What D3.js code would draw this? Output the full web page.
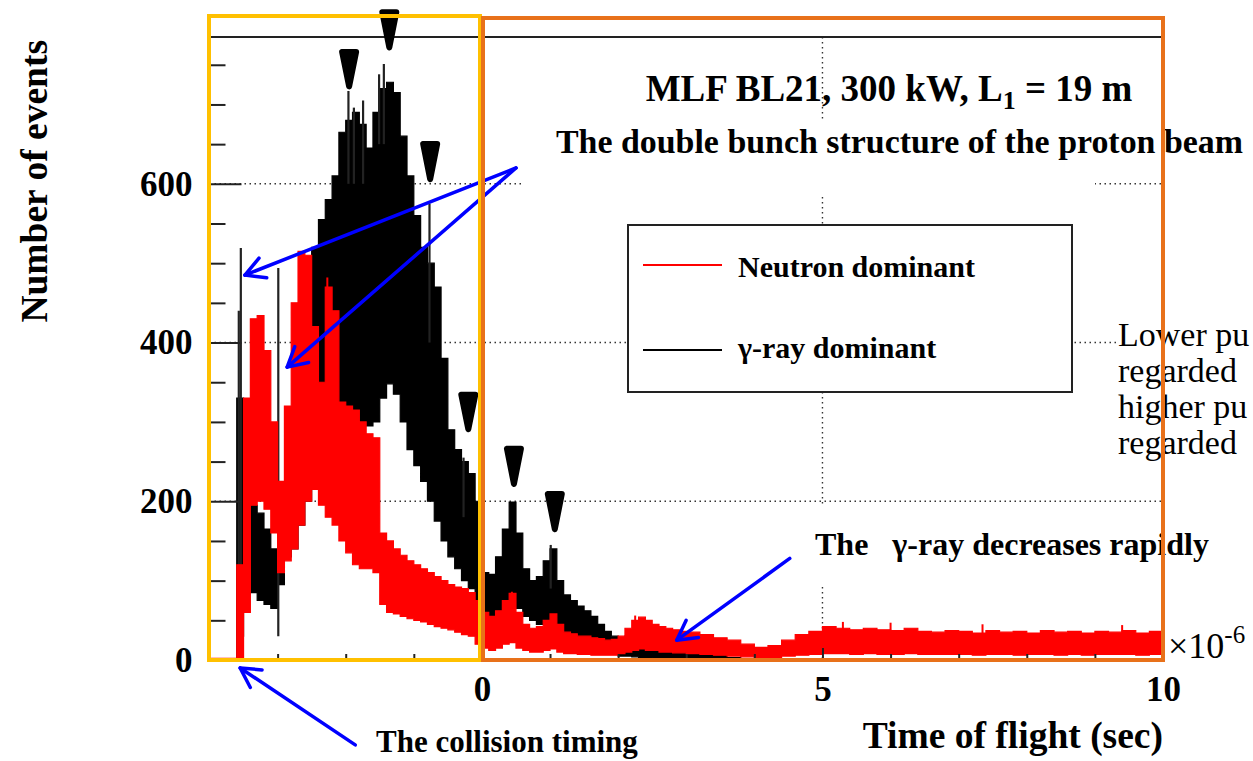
<!DOCTYPE html>
<html>
<head>
<meta charset="utf-8">
<script src="https://cdn.jsdelivr.net/npm/d3@7"></script>
<style>
  html, body { margin: 0; padding: 0; background: #fff; }
  svg { display: block; }
</style>
</head>
<body>
<svg id="chart" width="1253" height="761"></svg>
<script>
// Time-of-flight bin starts (microseconds); last bin closes at 10
const binStart = [
  -4.0,-3.9,-3.8,-3.7,-3.6,-3.5,-3.4,-3.3,-3.2,-3.1,
  -3.0,-2.9,-2.8,-2.7,-2.6,-2.5,-2.4,-2.3,-2.2,-2.1,
  -2.0,-1.9,-1.8,-1.7,-1.6,-1.5,-1.4,-1.3,-1.2,-1.1,
  -1.0,-0.9,-0.8,-0.7,-0.6,-0.5,-0.4,-0.3,-0.2,-0.1,
   0.0, 0.1, 0.2, 0.3, 0.4, 0.5, 0.6, 0.7, 0.8, 0.9,
   1.0, 1.1, 1.2, 1.3, 1.4, 1.5, 1.6, 1.7, 1.8, 1.9,
   2.0, 2.1, 2.2, 2.3, 2.4, 2.5, 2.6, 2.7, 2.8, 2.9,
   3.0, 3.2, 3.4, 3.6, 3.8, 4.0, 4.2, 4.4, 4.6, 4.8,
   5.0, 5.2, 5.4, 5.6, 5.8, 6.0, 6.2, 6.4, 6.6, 6.8,
   7.0, 7.2, 7.4, 7.6, 7.8, 8.0, 8.2, 8.4, 8.6, 8.8,
   9.0, 9.2, 9.4, 9.6, 9.8
];
const binEnd = 10;

// gamma-ray dominant events: upper and lower edge of the fluctuating band
const gammaHigh = [
    0,  0,  0,  0,330,210,195,185,165,140,
  150,210,235,300,400,520,555,580,610,665,
  680,690,675,645,690,720,728,715,660,610,
  560,520,500,470,380,290,265,250,235,200,
  110,108,130,165,199,160,115,100,105,125,
  140,100, 82, 75, 68, 62, 55, 45, 36, 30,
   28, 30, 28, 25, 24, 20, 18, 15, 14, 12,
   10,  8,  6,  3,  1,  0,  0,  0,  0,  0,
    0,  0,  0,  0,  0,  0,  0,  0,  0,  0,
    0,  0,  0,  0,  0,  0,  0,  0,  0,  0,
    0,  0,  0,  0,  0
];
const gammaLow = [
    0,  0,  0,  0, 30, 90, 85, 75, 70, 65,
   95,130,140,170,200,230,260,290,310,320,
  320,310,300,295,300,330,348,335,300,265,
  245,225,200,175,150,130,115,100, 90, 75,
   40, 45, 50, 60, 70, 65, 55, 50, 45, 45,
   45, 38, 32, 28, 24, 20, 16, 12,  9,  7,
    5,  5,  4,  3,  3,  2,  2,  1,  1,  0,
    0,  0,  0,  0,  0,  0,  0,  0,  0,  0,
    0,  0,  0,  0,  0,  0,  0,  0,  0,  0,
    0,  0,  0,  0,  0,  0,  0,  0,  0,  0,
    0,  0,  0,  0,  0
];

// neutron dominant events: upper and lower edge of the fluctuating band
const neutronHigh = [
    2,  2,  2,  2,120,330,430,434,390,300,
  225,320,450,515,510,420,350,470,440,325,
  320,315,300,285,280,160,150,140,132,125,
  120,115,110,105,100, 95, 92, 90, 85, 75,
   60, 55, 62, 75, 84, 60, 45, 40, 42, 50,
   58, 45, 35, 33, 30, 30, 28, 27, 25, 26,
   30, 40, 50, 54, 50, 45, 42, 40, 38, 36,
   35, 32, 28, 25, 20, 16, 18, 25, 32, 36,
   42, 40, 38, 40, 38, 37, 40, 36, 35, 37,
   36, 34, 37, 35, 36, 34, 37, 35, 36, 34,
   36, 35, 37, 34, 36
];
const neutronLow = [
    0,  0,  0,  0,  0, 60,195,200,190,160,
  110,125,140,170,200,215,195,180,170,150,
  135,120,115,115,110, 70, 60, 58, 55, 52,
   50, 48, 45, 42, 40, 38, 35, 32, 30, 20,
   15, 12, 15, 20, 22, 15, 12, 10, 10, 12,
   14, 10,  8,  8,  7,  7,  6,  6,  6,  6,
    8, 10, 12, 14, 12, 12, 10, 10,  9,  9,
    8,  7,  6,  5,  4,  2,  3,  5,  6,  7,
    8,  8,  7,  8,  7,  7,  8,  7,  7,  7,
    7,  6,  7,  7,  6,  7,  7,  6,  7,  6,
    7,  7,  7,  6,  7
];

// isolated tall bins of the gamma-ray histogram: [time, events, bottom of the bin]
const gammaSpikes = [
  [-3.57, 440, 0], [-3.54, 519, 0], [-2.99, 494, 30], [-1.96, 717, 600], [-1.88, 696, 600],
  [-1.745, 705, 600], [-1.51, 738, 650], [-1.44, 751, 650], [-0.77, 575, 400],
  [-0.27, 255, 180], [1.01, 145, 90]
];
// isolated tall bins of the neutron histogram: [time, events, bottom of the bin]
const neutronSpikes = [
  [-2.27, 482, 300], [0.44, 86, 50], [2.25, 56, 30], [5.3, 48, 25], [6.0, 47, 25],
  [7.35, 45, 25], [9.4, 44, 25]
];

// axis ticks
const yMajorTicks = [0, 200, 400, 600];
const yMinorTicks = [50, 100, 150, 250, 300, 350, 450, 500, 550, 650, 700, 750];
const xMajorTicks = [0, 5, 10];
const xMinorTicks = [-3, -2, -1, 1, 2, 3, 4, 6, 7, 8, 9];

// annotation markers (time, events): downward pointers above bunch peaks
const peakMarkers = [
  { x: -1.36, tip: 768, top: 820 },
  { x: -1.95, tip: 719, top: 770 },
  { x: -0.76, tip: 602, top: 654 },
  { x: -0.20, tip: 287, top: 338 },
  { x:  0.47, tip: 218, top: 270 },
  { x:  1.07, tip: 161, top: 213 }
];
// annotation arrows: from (x0,y0) to head (x1,y1) in (time, events)
const arrows = [
  { x0: 0.50, y0: 620, x1: -3.48, y1: 485 },
  { x0: 0.50, y0: 620, x1: -2.86, y1: 369 },
  { x0: -1.86, y0: -107, x1: -3.55, y1: -10 },
  { x0: 4.52, y0: 128, x1: 2.86, y1: 25 }
];

const svg = d3.select("#chart");
const W = 1253, H = 761;
const x = d3.scaleLinear().domain([-4, 10]).range([209.5, 1163]);
const y = d3.scaleLinear().domain([0, 785]).range([660, 37]);
const serif = "'Liberation Serif', 'Times New Roman', serif";

svg.append("rect").attr("width", W).attr("height", H).attr("fill", "#fff");

// dotted grid
const grid = svg.append("g").attr("stroke", "#333").attr("stroke-width", 1.4)
  .attr("stroke-dasharray", "1.5 3.5");
[0, 5].forEach(v => grid.append("line")
  .attr("x1", x(v)).attr("x2", x(v)).attr("y1", y(785)).attr("y2", y(0)));
[200, 400, 600].forEach(v => grid.append("line")
  .attr("x1", x(-4)).attr("x2", x(10)).attr("y1", y(v)).attr("y2", y(v)));

// white boxes behind the annotation texts
const boxes = svg.append("g").attr("fill", "#fff");
boxes.append("rect").attr("x", 524).attr("y", 121).attr("width", 571).attr("height", 76);
boxes.append("rect").attr("x", 806).attr("y", 507).attr("width", 410).attr("height", 80);
boxes.append("rect").attr("x", 1116).attr("y", 318).attr("width", 140).attr("height", 145);

// histogram bands
function bandData(hi, lo) {
  const d = binStart.map((t, i) => ({ t, hi: hi[i], lo: lo[i] }));
  d.push({ t: binEnd, hi: hi[hi.length - 1], lo: lo[lo.length - 1] });
  return d;
}
const band = d3.area().curve(d3.curveStepAfter)
  .x(d => x(d.t)).y0(d => y(d.lo)).y1(d => y(d.hi));

svg.append("path").datum(bandData(gammaHigh, gammaLow))
  .attr("d", band).attr("fill", "#000").attr("stroke", "#000").attr("stroke-width", 1.2);
svg.append("g").selectAll("line").data(gammaSpikes).join("line")
  .attr("x1", d => x(d[0])).attr("x2", d => x(d[0]))
  .attr("y1", d => y(d[2])).attr("y2", d => y(d[1]))
  .attr("stroke", "#222").attr("stroke-width", 2.2);

svg.append("path").datum(bandData(neutronHigh, neutronLow))
  .attr("d", band).attr("fill", "#ff0000").attr("stroke", "#ff0000").attr("stroke-width", 1.2);
svg.append("g").selectAll("line").data(neutronSpikes).join("line")
  .attr("x1", d => x(d[0])).attr("x2", d => x(d[0]))
  .attr("y1", d => y(d[2])).attr("y2", d => y(d[1]))
  .attr("stroke", "#ff0000").attr("stroke-width", 2);

// frame
svg.append("rect").attr("x", x(-4)).attr("y", y(785))
  .attr("width", x(10) - x(-4)).attr("height", y(0) - y(785))
  .attr("fill", "none").attr("stroke", "#222").attr("stroke-width", 2);

// axes with inward ticks
function clean(g) { g.select(".domain").remove(); return g; }
const yAxisG = svg.append("g").attr("transform", `translate(${x(-4)},0)`);
yAxisG.append("g").call(d3.axisLeft(y).tickValues(yMajorTicks).tickSize(-32).tickFormat(""))
  .call(clean).selectAll("line").attr("stroke", "#222").attr("stroke-width", 2);
yAxisG.append("g").call(d3.axisLeft(y).tickValues(yMinorTicks).tickSize(-16).tickFormat(""))
  .call(clean).selectAll("line").attr("stroke", "#222").attr("stroke-width", 2);
yAxisG.append("g").call(d3.axisLeft(y).tickValues(yMajorTicks).tickSize(0).tickPadding(17)
  .tickFormat(d3.format("d"))).call(clean)
  .selectAll("text").attr("font-family", serif).attr("font-weight", "bold")
  .attr("font-size", 35).attr("fill", "#000");

const xAxisG = svg.append("g").attr("transform", `translate(0,${y(0)})`);
xAxisG.append("g").call(d3.axisBottom(x).tickValues(xMajorTicks).tickSize(-12).tickFormat(""))
  .call(clean).selectAll("line").attr("stroke", "#222").attr("stroke-width", 2);
xAxisG.append("g").call(d3.axisBottom(x).tickValues(xMinorTicks).tickSize(-6).tickFormat(""))
  .call(clean).selectAll("line").attr("stroke", "#222").attr("stroke-width", 2);
xAxisG.append("g").call(d3.axisBottom(x).tickValues(xMajorTicks).tickSize(0).tickPadding(16)
  .tickFormat(d3.format("d"))).call(clean)
  .selectAll("text").attr("font-family", serif).attr("font-weight", "bold")
  .attr("font-size", 35).attr("fill", "#000");

// axis titles
svg.append("text").attr("transform", "translate(47,40) rotate(-90)")
  .attr("text-anchor", "end").attr("font-family", serif).attr("font-weight", "bold")
  .attr("font-size", 37.5).text("Number of events");
svg.append("text").attr("x", 1163).attr("y", 748).attr("text-anchor", "end")
  .attr("font-family", serif).attr("font-weight", "bold").attr("font-size", 37.5)
  .text("Time of flight (sec)");
const expo = svg.append("text").attr("x", 1168).attr("y", 658)
  .attr("font-family", serif).attr("font-size", 36);
expo.append("tspan").text("\u00d710");
expo.append("tspan").attr("dy", -15).attr("font-size", 25).text("-6");

// titles and notes
const title = svg.append("text").attr("x", 889).attr("y", 101).attr("text-anchor", "middle")
  .attr("font-family", serif).attr("font-weight", "bold").attr("font-size", 37);
title.append("tspan").text("MLF BL21, 300 kW, L");
title.append("tspan").attr("dy", 8).attr("font-size", 26).text("1");
title.append("tspan").attr("dy", -8).text(" = 19 m");

svg.append("text").attr("x", 556).attr("y", 153)
  .attr("font-family", serif).attr("font-weight", "bold").attr("font-size", 33.9)
  .text("The double bunch structure of the proton beam");
svg.append("text").attr("x", 815).attr("y", 555).attr("xml:space", "preserve")
  .attr("font-family", serif).attr("font-weight", "bold").attr("font-size", 32)
  .text("The   \u03b3-ray decreases rapidly");
svg.append("text").attr("x", 376).attr("y", 752)
  .attr("font-family", serif).attr("font-weight", "bold").attr("font-size", 31)
  .text("The collision timing");

// side note, partly outside the canvas
const noteLines = ["Lower pu", "regarded", "higher pu", "regarded"];
noteLines.forEach((s, i) =>
  svg.append("text").attr("x", 1118).attr("y", 346 + i * 36)
    .attr("font-family", serif).attr("font-size", 34).text(s));

// legend
const leg = svg.append("g");
leg.append("rect").attr("x", 628).attr("y", 225).attr("width", 444).attr("height", 167)
  .attr("fill", "#fff").attr("stroke", "#222").attr("stroke-width", 2);
[["Neutron dominant", "#ff0000", 265, 277], ["\u03b3-ray dominant", "#000", 350, 358]]
  .forEach(([label, col, ly, ty]) => {
    leg.append("line").attr("x1", 643).attr("x2", 722).attr("y1", ly).attr("y2", ly)
      .attr("stroke", col).attr("stroke-width", 2);
    leg.append("text").attr("x", 738).attr("y", ty).attr("font-family", serif)
      .attr("font-weight", "bold").attr("font-size", 30).text(label);
  });

// peak markers
const mk = svg.append("g");
peakMarkers.forEach(m => {
  const cx = x(m.x), t = y(m.top), b = y(m.tip);
  mk.append("path")
    .attr("d", `M${cx - 7},${t + 3} L${cx + 7},${t + 3} L${cx},${b - 3} Z`)
    .attr("fill", "#000").attr("stroke", "#000").attr("stroke-width", 6)
    .attr("stroke-linejoin", "round");
});

// arrows
const ar = svg.append("g").attr("stroke", "#0000ff").attr("stroke-width", 3.5)
  .attr("fill", "none").attr("stroke-linecap", "round").attr("stroke-linejoin", "round");
arrows.forEach(a => {
  const X0 = x(a.x0), Y0 = y(a.y0), X1 = x(a.x1), Y1 = y(a.y1);
  const ang = Math.atan2(Y0 - Y1, X0 - X1);
  const L = 22, spread = 0.5;
  ar.append("line").attr("x1", X0).attr("y1", Y0).attr("x2", X1).attr("y2", Y1);
  ar.append("path").attr("d",
    `M${X1 + L * Math.cos(ang - spread)},${Y1 + L * Math.sin(ang - spread)} L${X1},${Y1} ` +
    `L${X1 + L * Math.cos(ang + spread)},${Y1 + L * Math.sin(ang + spread)}`);
});

// highlight boxes
svg.append("rect").attr("x", 209).attr("y", 16).attr("width", 271).attr("height", 644)
  .attr("fill", "none").attr("stroke", "#ffc000").attr("stroke-width", 4);
svg.append("rect").attr("x", 483).attr("y", 18).attr("width", 680).attr("height", 642)
  .attr("fill", "none").attr("stroke", "#e8711a").attr("stroke-width", 4);
</script>
</body>
</html>
